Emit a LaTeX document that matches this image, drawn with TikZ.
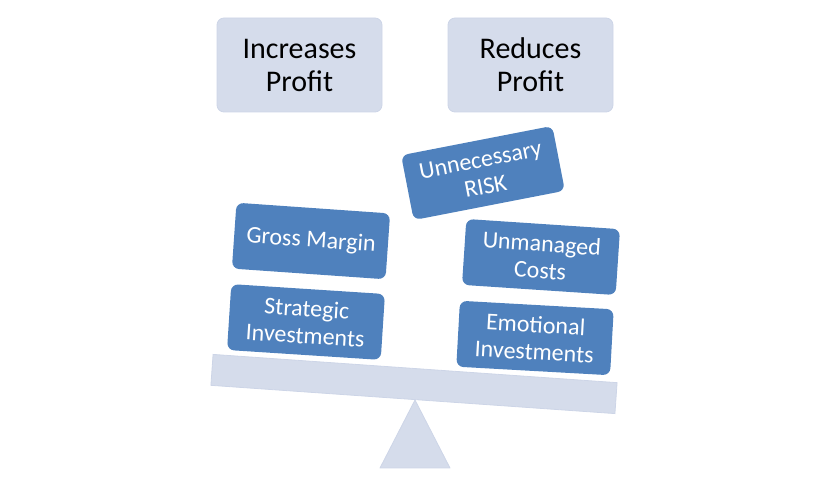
\documentclass[tikz,border=0pt]{standalone}
\usepackage{fontspec}
\setmainfont{Carlito}
\usepackage{tikz}
\tikzset{
  head/.style    = {rectangle, rounded corners=7pt, fill=headfill,
                    draw=headline, line width=0.8pt, align=center,
                    minimum width=165pt, minimum height=94pt,
                    font=\fontsize{30}{33}\selectfont, text=black},
  item/.style    = {rectangle, rounded corners=7pt, fill=itemblue,
                    draw=none, align=center, text=white,
                    minimum width=154pt, minimum height=66pt,
                    font=\fontsize{24}{27}\selectfont},
  beam/.style    = {rectangle, fill=headfill, draw=headline,
                    line width=0.8pt, minimum width=405pt,
                    minimum height=31pt, inner sep=0pt},
  pivot/.style   = {fill=headfill, draw=headline, line width=0.8pt,
                    line join=round},
}
\definecolor{headfill}{HTML}{D5DCEB}
\definecolor{headline}{HTML}{CDD5E7}
\definecolor{itemblue}{HTML}{4F81BD}

\begin{document}
\begin{tikzpicture}[x=1pt, y=1pt]
  \useasboundingbox (0,0) rectangle (831,493);
  \node[head] (inc) at (299.5,428) {Increases\\Profit};
  \node[head] (red) at (530.5,428) {Reduces\\Profit};

  \coordinate (top) at (415,93);
  \coordinate (bl) at (380,25);
  \coordinate (br) at (450,25);
  \draw[pivot] (top) -- (br) -- (bl) -- cycle;
  \node[beam, rotate=-4] (bar) at (414,109) {};

  \node[item, rotate=-3.7] (strat) at (306,171) {Strategic\\Investments};
  \node[item, rotate=-4]   (gross) at (311,252) {Gross Margin};
  \node[item, rotate=-3.2] (emo)   at (535,155) {Emotional\\Investments};
  \node[item, rotate=-3.8] (cost)  at (541,236) {Unmanaged\\Costs};
  \node[item, rotate=11]   (risk)  at (483,320) {Unnecessary\\RISK};
\end{tikzpicture}
\end{document}
